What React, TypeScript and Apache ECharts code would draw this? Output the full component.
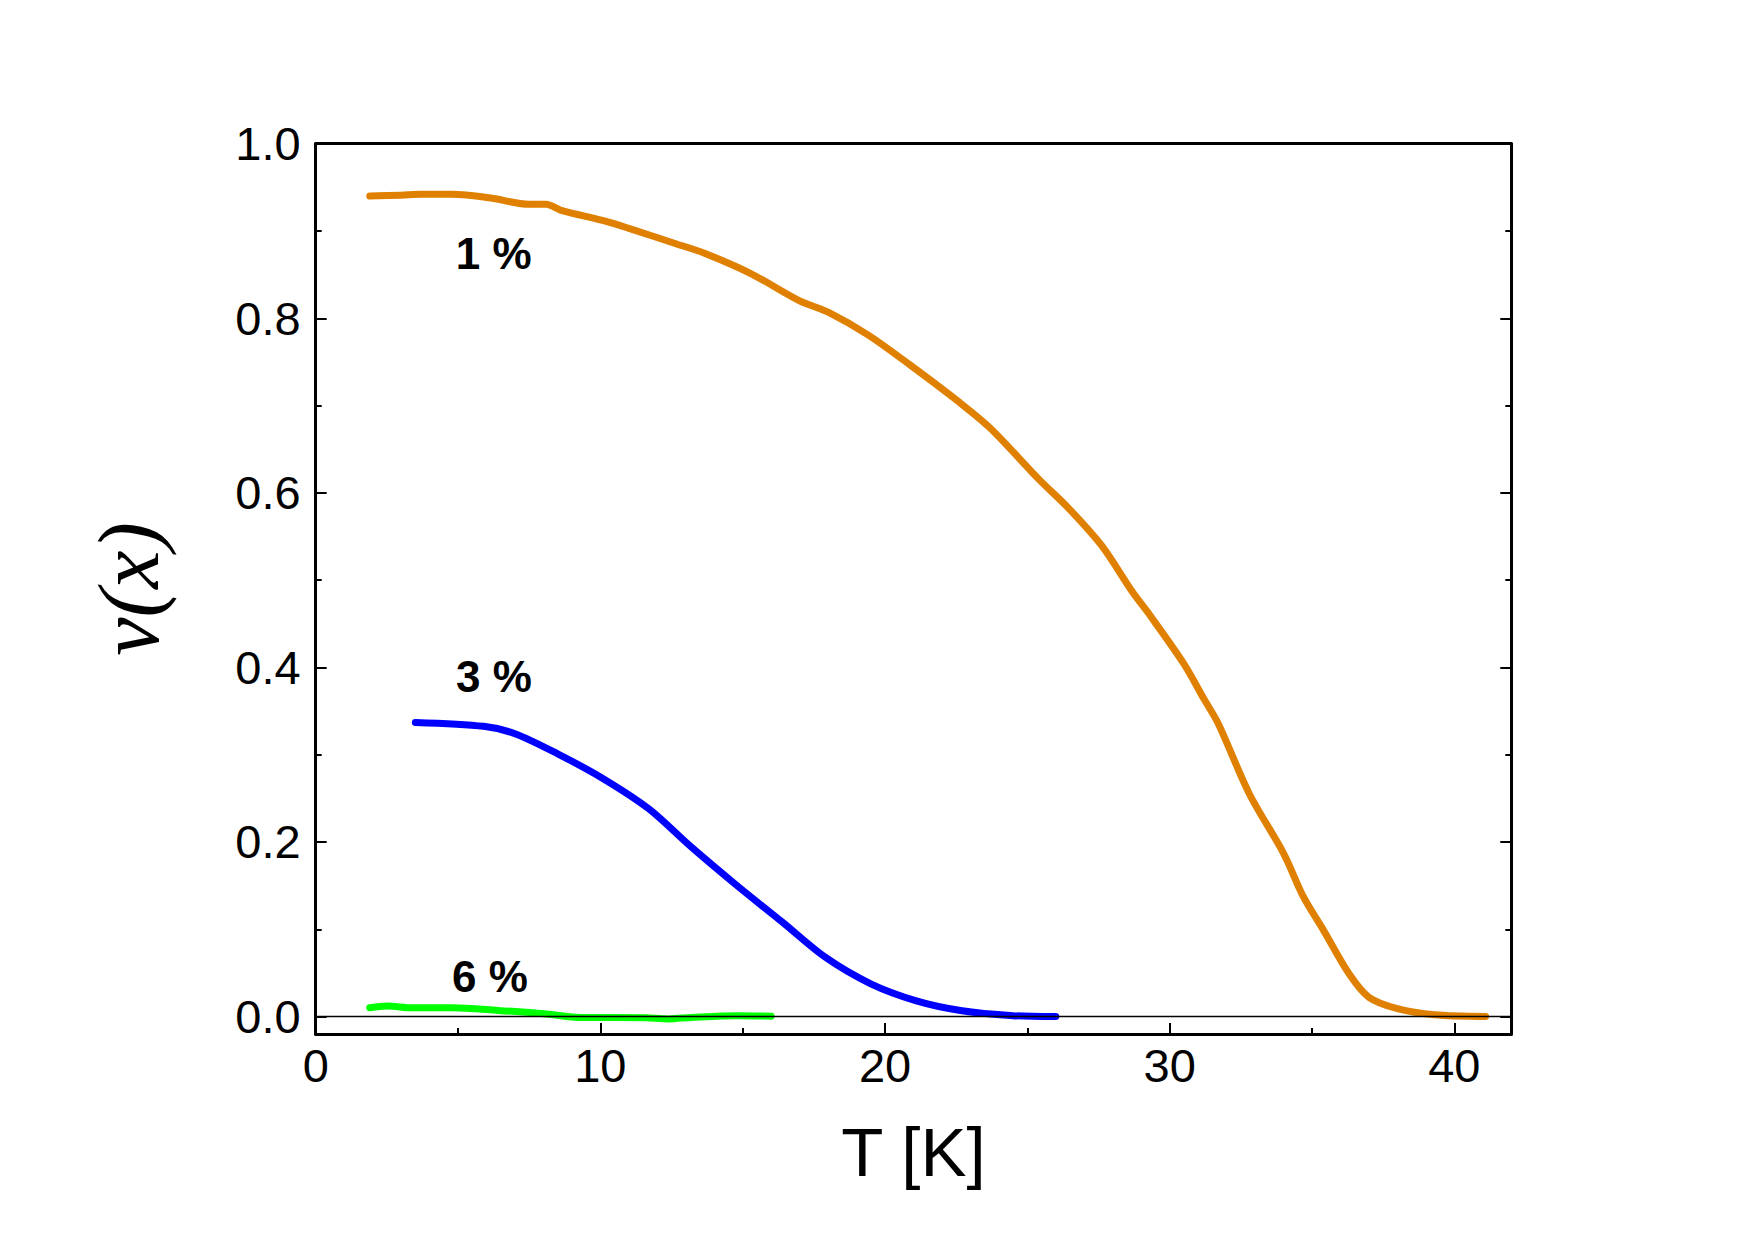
import React, { useEffect, useRef } from "react";
import * as echarts from "echarts";

// ---- data (T [K], v(x)) ----
const orange1: [number, number][] = [
  [1.9, 0.94], [3.0, 0.941], [3.7, 0.942], [4.8, 0.942], [6.1, 0.938],
  [7.5, 0.9305], [8.1, 0.9305], [8.6, 0.924], [10.2, 0.911], [11.0, 0.903],
  [12.6, 0.886], [13.7, 0.874], [15.3, 0.851], [17.0, 0.82], [18.0, 0.807],
  [19.4, 0.781], [20.9, 0.746], [22.6, 0.704], [23.7, 0.674], [25.45, 0.614],
  [26.4, 0.584], [27.6, 0.54], [28.7, 0.486], [29.3, 0.46], [30.5, 0.404],
  [31.2, 0.364], [31.7, 0.336], [32.8, 0.255], [34.0, 0.187], [34.7, 0.137],
  [35.4, 0.099], [36.3, 0.049], [37.0, 0.022], [38.0, 0.009], [39.3, 0.002],
  [41.1, 0.0],
];
const blue3: [number, number][] = [
  [3.5, 0.337], [5.9, 0.3325], [7.0, 0.324], [8.5, 0.301], [10.1, 0.2725],
  [11.7, 0.238], [13.2, 0.194], [14.8, 0.15], [16.4, 0.108], [17.9, 0.068],
  [19.5, 0.0375], [21.1, 0.018], [22.65, 0.007], [24.5, 0.001], [26.0, 0.0],
];
const green6: [number, number][] = [
  [1.9, 0.01], [2.5, 0.012], [3.4, 0.01], [4.8, 0.01], [6.4, 0.007],
  [8.1, 0.003], [9.3, -0.001], [10.5, -0.001], [11.6, -0.0015], [12.4, -0.0027],
  [13.2, -0.001], [14.8, 0.001], [16.0, 0.0003],
];
const curveLabels = ["1 %", "3 %", "6 %"];
const curveLabelAnchors: [number, number][] = [[6.27, 0.8735], [6.28, 0.389], [6.14, 0.045]];

const X_MIN = 0;
const X_MAX = 42;
const Y_MIN = -0.02;
const Y_MAX = 1.0;
const xMajor = [0, 10, 20, 30, 40];
const xMinor = [5, 15, 25, 35];
const yMajor = [0, 0.2, 0.4, 0.6, 0.8, 1.0];
const yMinor = [0.1, 0.3, 0.5, 0.7, 0.9];

const SANS = "'Liberation Sans', Arial, sans-serif";

export default function App() {
  const ref = useRef<HTMLDivElement>(null);
  useEffect(() => {
    if (!ref.current) return;
    const chart = echarts.init(ref.current, null, { renderer: "svg" });
    const black = "#000";
    const tickLine = { color: black, width: 2 };
    const xBase = { type: "value", min: X_MIN, max: X_MAX, splitLine: { show: false } };
    const yBase = { type: "value", min: Y_MIN, max: Y_MAX, splitLine: { show: false } };
    const lineSeries = (data: [number, number][], color: string) => ({
      type: "line",
      data,
      showSymbol: false,
      symbol: "none",
      smooth: 0.3,
      z: 3,
      lineStyle: { color, width: 7, cap: "round", join: "round" },
      itemStyle: { color },
    });
    chart.setOption({
      animation: false,
      backgroundColor: "#fff",
      grid: { left: 315.7, top: 143.7, right: 242.7, bottom: 205, containLabel: false },
      xAxis: [
        {
          ...xBase,
          position: "bottom",
          axisLine: { show: true, onZero: false, lineStyle: { color: black, width: 3 } },
          axisTick: { show: true, inside: true, length: 11, lineStyle: tickLine, customValues: xMajor },
          axisLabel: { show: true, customValues: xMajor, fontSize: 47, fontFamily: SANS, color: black, margin: 8 },
          name: "T [K]",
          nameLocation: "middle",
          nameGap: 84,
          nameTextStyle: { fontSize: 69, fontFamily: SANS, color: black },
        },
        {
          ...xBase,
          position: "bottom",
          axisLine: { show: false, onZero: false },
          axisTick: { show: true, inside: true, length: 6, lineStyle: tickLine, customValues: xMinor },
          axisLabel: { show: false },
        },
        {
          ...xBase,
          position: "top",
          axisLine: { show: true, onZero: false, lineStyle: { color: black, width: 3 } },
          axisTick: { show: false },
          axisLabel: { show: false },
        },
      ],
      yAxis: [
        {
          ...yBase,
          position: "left",
          axisLine: { show: true, onZero: false, lineStyle: { color: black, width: 3 } },
          axisTick: { show: true, inside: true, length: 11, lineStyle: tickLine, customValues: yMajor },
          axisLabel: {
            show: true,
            customValues: yMajor,
            formatter: (v: number) => v.toFixed(1),
            fontSize: 47,
            fontFamily: SANS,
            color: black,
            margin: 15,
          },
          name: "ν(x)",
          nameLocation: "middle",
          nameGap: 144,
          nameTextStyle: {
            fontSize: 86,
            fontFamily: "'Liberation Serif', 'Times New Roman', serif",
            fontStyle: "italic",
            color: black,
          },
        },
        {
          ...yBase,
          position: "left",
          axisLine: { show: false, onZero: false },
          axisTick: { show: true, inside: true, length: 6, lineStyle: tickLine, customValues: yMinor },
          axisLabel: { show: false },
        },
        {
          ...yBase,
          position: "right",
          axisLine: { show: true, onZero: false, lineStyle: { color: black, width: 3 } },
          axisTick: { show: true, inside: true, length: 11, lineStyle: tickLine, customValues: yMajor },
          axisLabel: { show: false },
        },
        {
          ...yBase,
          position: "right",
          axisLine: { show: false, onZero: false },
          axisTick: { show: true, inside: true, length: 6, lineStyle: tickLine, customValues: yMinor },
          axisLabel: { show: false },
        },
      ],
      series: [
        {
          type: "line",
          data: [[0, 0]],
          showSymbol: false,
          symbol: "none",
          lineStyle: { width: 0 },
          z: 1,
          silent: true,
          markLine: {
            silent: true,
            symbol: ["none", "none"],
            label: { show: false },
            lineStyle: { color: black, width: 1.3, type: "solid" },
            data: [{ yAxis: 0 }],
          },
        },
        lineSeries(orange1, "#E08000"),
        lineSeries(blue3, "#0000FF"),
        lineSeries(green6, "#00FF00"),
        {
          type: "scatter",
          symbolSize: 1,
          z: 4,
          silent: true,
          itemStyle: { opacity: 0, color: black },
          data: curveLabelAnchors.map((p, i) => ({ value: p, name: curveLabels[i] })),
          label: {
            show: true,
            position: [0, 0],
            align: "center",
            verticalAlign: "middle",
            formatter: (p: any) => p.name,
            fontSize: 44,
            fontWeight: "bold",
            fontFamily: SANS,
            color: "#000000",
            opacity: 1,
            textBorderWidth: 0,
          },
        },
      ],
    });
    return () => chart.dispose();
  }, []);
  return (
    <div
      ref={ref}
      style={{ position: "fixed", left: 0, top: 0, width: 1754, height: 1239, background: "#fff" }}
    />
  );
}
